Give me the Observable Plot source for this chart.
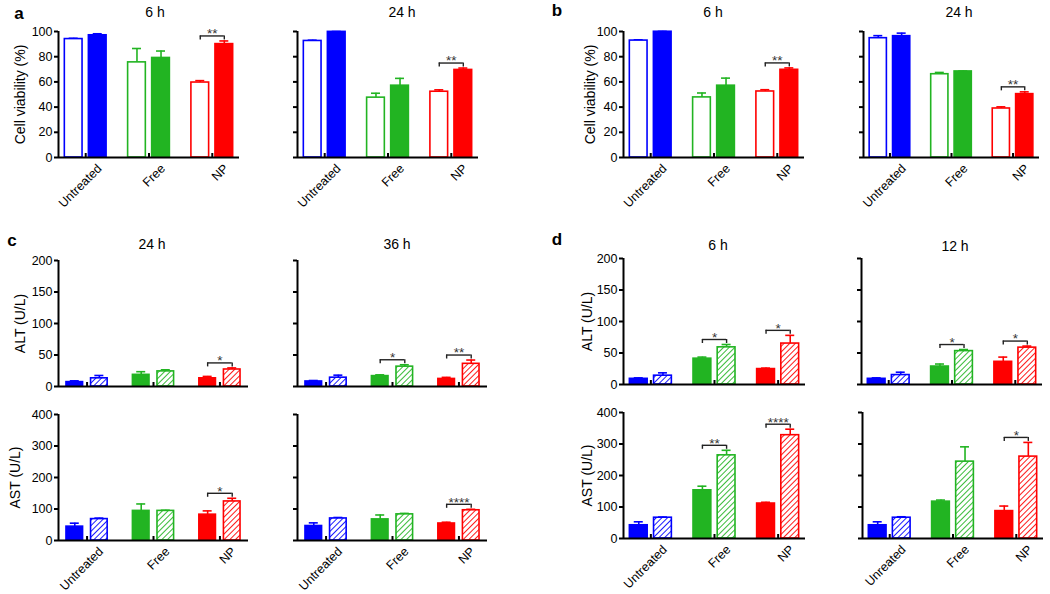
<!DOCTYPE html>
<html><head><meta charset="utf-8">
<script src="https://cdn.jsdelivr.net/npm/d3@7"></script>
<script src="https://cdn.jsdelivr.net/npm/@observablehq/plot@0.6"></script>
<style>
body{margin:0;background:#fff;}
#fig{position:relative;width:1050px;height:594px;overflow:hidden;font-family:"Liberation Sans",Arial,sans-serif;color:#000;}
#fig svg.pl{position:absolute;}
.let{position:absolute;font-weight:bold;font-size:17px;transform:translate(-50%,-50%);}
.ttl{position:absolute;font-size:14px;transform:translate(-50%,-50%);white-space:nowrap;}
</style></head><body>
<svg width="0" height="0" style="position:absolute">
<defs>
<pattern id="hatch0" patternUnits="userSpaceOnUse" width="4" height="4" patternTransform="rotate(45)"><rect width="4" height="4" fill="white"/><line x1="0" y1="0" x2="0" y2="4" stroke="#0000ff" stroke-width="1.8"/></pattern>
<pattern id="hatch1" patternUnits="userSpaceOnUse" width="4" height="4" patternTransform="rotate(45)"><rect width="4" height="4" fill="white"/><line x1="0" y1="0" x2="0" y2="4" stroke="#22b422" stroke-width="1.8"/></pattern>
<pattern id="hatch2" patternUnits="userSpaceOnUse" width="4" height="4" patternTransform="rotate(45)"><rect width="4" height="4" fill="white"/><line x1="0" y1="0" x2="0" y2="4" stroke="#ff0000" stroke-width="1.8"/></pattern>
</defs></svg>
<div id="fig"></div>
<script>
// ---------- data ----------
const groups = ["Untreated", "Free", "NP"];
const groupsD12 = ["Unreated", "Free", "NP"]; // as printed in the original
const colors = ["#0000ff", "#22b422", "#ff0000"];

// a: cell viability (open vs filled)
const a6_open = [94, 75.5, 59.5];   const a6_openErr = [0.6, 11, 1.5];
const a6_fill = [97, 79, 90];       const a6_fillErr = [1.2, 5.5, 2.5];
const a6_sig = ["", "", "**"];
const a24_open = [92.5, 47.5, 52.2]; const a24_openErr = [0.6, 3.5, 1.5];
const a24_fill = [99.7, 57, 69.5];   const a24_fillErr = [0.3, 5.8, 1.5];
const a24_sig = ["", "", "**"];
// b: cell viability (open vs filled)
const b6_open = [92.8, 47.7, 52.4];  const b6_openErr = [0.6, 3.5, 1.4];
const b6_fill = [99.8, 57, 69.6];    const b6_fillErr = [0.3, 6, 1.5];
const b6_sig = ["", "", "**"];
const b24_open = [94.7, 66.1, 38.9]; const b24_openErr = [2, 1.4, 1.3];
const b24_fill = [96.3, 68.3, 50.3]; const b24_fillErr = [2.4, 0.3, 1.8];
const b24_sig = ["", "", "**"];
// c: ALT / AST (filled vs hatched)
const cALT24_fill = [7, 18.5, 13];   const cALT24_fillErr = [2, 5, 3];
const cALT24_hat = [13, 24, 27];     const cALT24_hatErr = [4.5, 2.5, 2.5];
const cALT24_sig = ["", "", "*"];
const cALT36_fill = [8, 16.5, 12];   const cALT36_fillErr = [1.5, 2, 2.5];
const cALT36_hat = [14, 31.5, 36];   const cALT36_hatErr = [4, 3, 6];
const cALT36_sig = ["", "*", "**"];
const cAST24_fill = [44, 94, 82];    const cAST24_fillErr = [11, 22, 12];
const cAST24_hat = [68, 94, 124];    const cAST24_hatErr = [3, 2, 10];
const cAST24_sig = ["", "", "*"];
const cAST36_fill = [46, 67, 54];    const cAST36_fillErr = [10, 14, 4];
const cAST36_hat = [70, 83, 96];     const cAST36_hatErr = [3, 3, 3];
const cAST36_sig = ["", "", "****"];
// d: ALT / AST (filled vs hatched)
const dALT6_fill = [9, 41, 24.5];    const dALT6_fillErr = [1.5, 2.5, 1.5];
const dALT6_hat = [14, 59, 65];      const dALT6_hatErr = [4.5, 4.5, 13];
const dALT6_sig = ["", "*", "*"];
const dALT12_fill = [9, 28.5, 36];   const dALT12_fillErr = [1.5, 4, 7.5];
const dALT12_hat = [15, 53, 58.5];   const dALT12_hatErr = [4.5, 2.5, 2.5];
const dALT12_sig = ["", "*", "*"];
const dAST6_fill = [42, 153, 111];   const dAST6_fillErr = [11, 13, 4];
const dAST6_hat = [66, 264, 328];    const dAST6_hatErr = [2, 16, 19];
const dAST6_sig = ["", "**", "****"];
const dAST12_fill = [42, 117, 87];   const dAST12_fillErr = [11, 5, 16];
const dAST12_hat = [66, 244, 260];   const dAST12_hatErr = [3, 47, 45];
const dAST12_sig = ["", "", "*"];

const viabTicks = [0, 20, 40, 60, 80, 100];
const altTicks = [0, 50, 100, 150, 200];
const astTicks = [0, 100, 200, 300, 400];

const titles = [
  {t: "6 h", x: 155, y: 12}, {t: "24 h", x: 402, y: 12},
  {t: "6 h", x: 713, y: 12}, {t: "24 h", x: 959, y: 12},
  {t: "24 h", x: 152, y: 244}, {t: "36 h", x: 397, y: 244},
  {t: "6 h", x: 718, y: 245}, {t: "12 h", x: 955, y: 246}
];
const letters = [
  {t: "a", x: 19, y: 14}, {t: "b", x: 557, y: 11},
  {t: "c", x: 12, y: 241}, {t: "d", x: 557, y: 240}
];

// ---------- layout ----------
const X0 = 0.57, X1 = 3.43, INNER_H = 126;
const FONT = "'Liberation Sans', Arial, sans-serif";
const FS = 12.5, LFS = 14;
const fig = document.getElementById("fig");

function panel(cfg) {
  const [L, Le, R, Re, sig] = cfg.data;
  const innerW = cfg.innerW, innerH = INNER_H;
  const mL = 64, mR = 8, mT = 24, mB = cfg.showX ? 78 : 8;
  const u = cfg.yMax / innerH;            // data units per pixel (y)
  const pxu = innerW / (X1 - X0);         // pixels per x unit
  const cap = 4.5 / pxu;
  const [o0, o1] = cfg.off;
  const marks = [];
  const bars = [];
  L.forEach((v, i) => {
    const c = i + 1;
    bars.push({i, v, e: Le[i], xa: c - o1, xb: c - o0, style: cfg.styles[0]});
    bars.push({i, v: R[i], e: Re[i], xa: c + o0, xb: c + o1, style: cfg.styles[1]});
  });
  bars.forEach(b => { b.xc = (b.xa + b.xb) / 2; b.top = b.v + b.e; });
  for (const b of bars) {
    const col = colors[b.i];
    const fill = b.style === "open" ? "white" : b.style === "filled" ? col : `url(#hatch${b.i})`;
    marks.push(Plot.ruleX([b], {x: "xc", y1: "v", y2: "top", stroke: col, strokeWidth: 1.6}));
    marks.push(Plot.ruleY([b], {y: "top", x1: d => d.xc - cap, x2: d => d.xc + cap, stroke: col, strokeWidth: 1.6}));
    marks.push(Plot.rectY([b], {x1: "xa", x2: "xb", y1: 0, y2: "v", fill, stroke: col, strokeWidth: 1.6}));
  }
  // significance brackets
  sig.forEach((s, i) => {
    if (!s) return;
    const bl = bars[2 * i], br = bars[2 * i + 1];
    const yb = Math.max(bl.top, br.top) + 5 * u;
    const row = {yb, xl: bl.xc, xr: br.xc, xm: (bl.xc + br.xc) / 2, s};
    marks.push(Plot.ruleY([row], {y: "yb", x1: "xl", x2: "xr", stroke: "#222", strokeWidth: 1.4}));
    marks.push(Plot.ruleX([{x: row.xl}, {x: row.xr}], {x: "x", y1: yb - 4 * u, y2: yb, stroke: "#222", strokeWidth: 1.4}));
    marks.push(Plot.text([row], {x: "xm", y: "yb", text: "s", dy: -2, fontSize: 13.5, fill: "#333"}));
  });
  // axes
  marks.push(Plot.ruleX([X0], {y1: 0, y2: cfg.yMax, stroke: "#000", strokeWidth: 2}));
  marks.push(Plot.ruleY([0], {stroke: "#000", strokeWidth: 2}));
  marks.push(Plot.ruleX([1, 2, 3], {y1: 0, y2: 4 * u, stroke: "#000", strokeWidth: 2}));
  marks.push(Plot.axisY({
    ticks: cfg.yTicks, tickSize: 4, strokeWidth: 2, tickPadding: 2, fontSize: FS,
    tickFormat: cfg.showYText ? (d => d) : (() => ""), label: null
  }));
  if (cfg.showYText) {
    marks.push(Plot.text([cfg.yLabel], {
      text: d => d, frameAnchor: "left", textAnchor: "middle", lineAnchor: "middle",
      rotate: -90, dx: -cfg.labelDist, fontSize: LFS, fill: "#000"
    }));
  }
  if (cfg.showX) {
    const tl = cfg.cats.map((c, i) => ({x: i + 1, c}));
    marks.push(Plot.text(tl, {
      x: "x", text: "c", frameAnchor: "bottom", rotate: -45,
      textAnchor: "end", lineAnchor: "middle", dx: 14, dy: 9, fontSize: FS, fill: "#000"
    }));
  }
  const svg = Plot.plot({
    width: mL + innerW + mR, height: mT + innerH + mB,
    marginLeft: mL, marginRight: mR, marginTop: mT, marginBottom: mB,
    x: {domain: [X0, X1], axis: null},
    y: {domain: [0, cfg.yMax]},
    style: {fontFamily: FONT, fontSize: "13px", color: "#000", background: "transparent", overflow: "visible"},
    marks
  });
  svg.classList.add("pl");
  svg.style.left = (cfg.ax - mL) + "px";
  svg.style.top = (cfg.at - mT) + "px";
  svg.style.maxWidth = "none";
  fig.appendChild(svg);
}

const OV = ["open", "filled"], FH = ["filled", "hatch"];
const offAB = [0.05, 0.33], offCD = [0.06, 0.31];
const panels = [
  {data: [a6_open, a6_openErr, a6_fill, a6_fillErr, a6_sig], styles: OV, yMax: 100, yTicks: viabTicks, yLabel: "Cell viability (%)", labelDist: 38, cats: groups, innerW: 181, showX: true, showYText: true, ax: 58, at: 31, off: offAB},
  {data: [a24_open, a24_openErr, a24_fill, a24_fillErr, a24_sig], styles: OV, yMax: 100, yTicks: viabTicks, yLabel: "", labelDist: 38, cats: groups, innerW: 181, showX: true, showYText: false, ax: 297, at: 31, off: offAB},
  {data: [b6_open, b6_openErr, b6_fill, b6_fillErr, b6_sig], styles: OV, yMax: 100, yTicks: viabTicks, yLabel: "Cell viability (%)", labelDist: 33, cats: groups, innerW: 181, showX: true, showYText: true, ax: 623, at: 31, off: offAB},
  {data: [b24_open, b24_openErr, b24_fill, b24_fillErr, b24_sig], styles: OV, yMax: 100, yTicks: viabTicks, yLabel: "", labelDist: 33, cats: groups, innerW: 176, showX: true, showYText: false, ax: 863, at: 31, off: offAB},
  {data: [cALT24_fill, cALT24_fillErr, cALT24_hat, cALT24_hatErr, cALT24_sig], styles: FH, yMax: 200, yTicks: altTicks, yLabel: "ALT (U/L)", labelDist: 38, cats: groups, innerW: 190, showX: false, showYText: true, ax: 58, at: 260, off: offCD},
  {data: [cALT36_fill, cALT36_fillErr, cALT36_hat, cALT36_hatErr, cALT36_sig], styles: FH, yMax: 200, yTicks: altTicks, yLabel: "", labelDist: 38, cats: groups, innerW: 190, showX: false, showYText: false, ax: 297, at: 260, off: offCD},
  {data: [cAST24_fill, cAST24_fillErr, cAST24_hat, cAST24_hatErr, cAST24_sig], styles: FH, yMax: 400, yTicks: astTicks, yLabel: "AST (U/L)", labelDist: 43, cats: groups, innerW: 190, showX: true, showYText: true, ax: 58, at: 414, off: offCD},
  {data: [cAST36_fill, cAST36_fillErr, cAST36_hat, cAST36_hatErr, cAST36_sig], styles: FH, yMax: 400, yTicks: astTicks, yLabel: "", labelDist: 43, cats: groups, innerW: 190, showX: true, showYText: false, ax: 297, at: 414, off: offCD},
  {data: [dALT6_fill, dALT6_fillErr, dALT6_hat, dALT6_hatErr, dALT6_sig], styles: FH, yMax: 200, yTicks: altTicks, yLabel: "ALT (U/L)", labelDist: 36, cats: groups, innerW: 182, showX: false, showYText: true, ax: 623, at: 258, off: offAB},
  {data: [dALT12_fill, dALT12_fillErr, dALT12_hat, dALT12_hatErr, dALT12_sig], styles: FH, yMax: 200, yTicks: altTicks, yLabel: "", labelDist: 36, cats: groups, innerW: 181, showX: false, showYText: false, ax: 861, at: 258, off: offAB},
  {data: [dAST6_fill, dAST6_fillErr, dAST6_hat, dAST6_hatErr, dAST6_sig], styles: FH, yMax: 400, yTicks: astTicks, yLabel: "AST (U/L)", labelDist: 36, cats: groups, innerW: 182, showX: true, showYText: true, ax: 623, at: 412, off: offAB},
  {data: [dAST12_fill, dAST12_fillErr, dAST12_hat, dAST12_hatErr, dAST12_sig], styles: FH, yMax: 400, yTicks: astTicks, yLabel: "", labelDist: 36, cats: groupsD12, innerW: 181, showX: true, showYText: false, ax: 862, at: 412, off: offAB}
];
panels.forEach(panel);

for (const t of titles) {
  const d = document.createElement("div");
  d.className = "ttl"; d.textContent = t.t;
  d.style.left = t.x + "px"; d.style.top = t.y + "px";
  fig.appendChild(d);
}
for (const t of letters) {
  const d = document.createElement("div");
  d.className = "let"; d.textContent = t.t;
  d.style.left = t.x + "px"; d.style.top = t.y + "px";
  fig.appendChild(d);
}
</script>
</body></html>
